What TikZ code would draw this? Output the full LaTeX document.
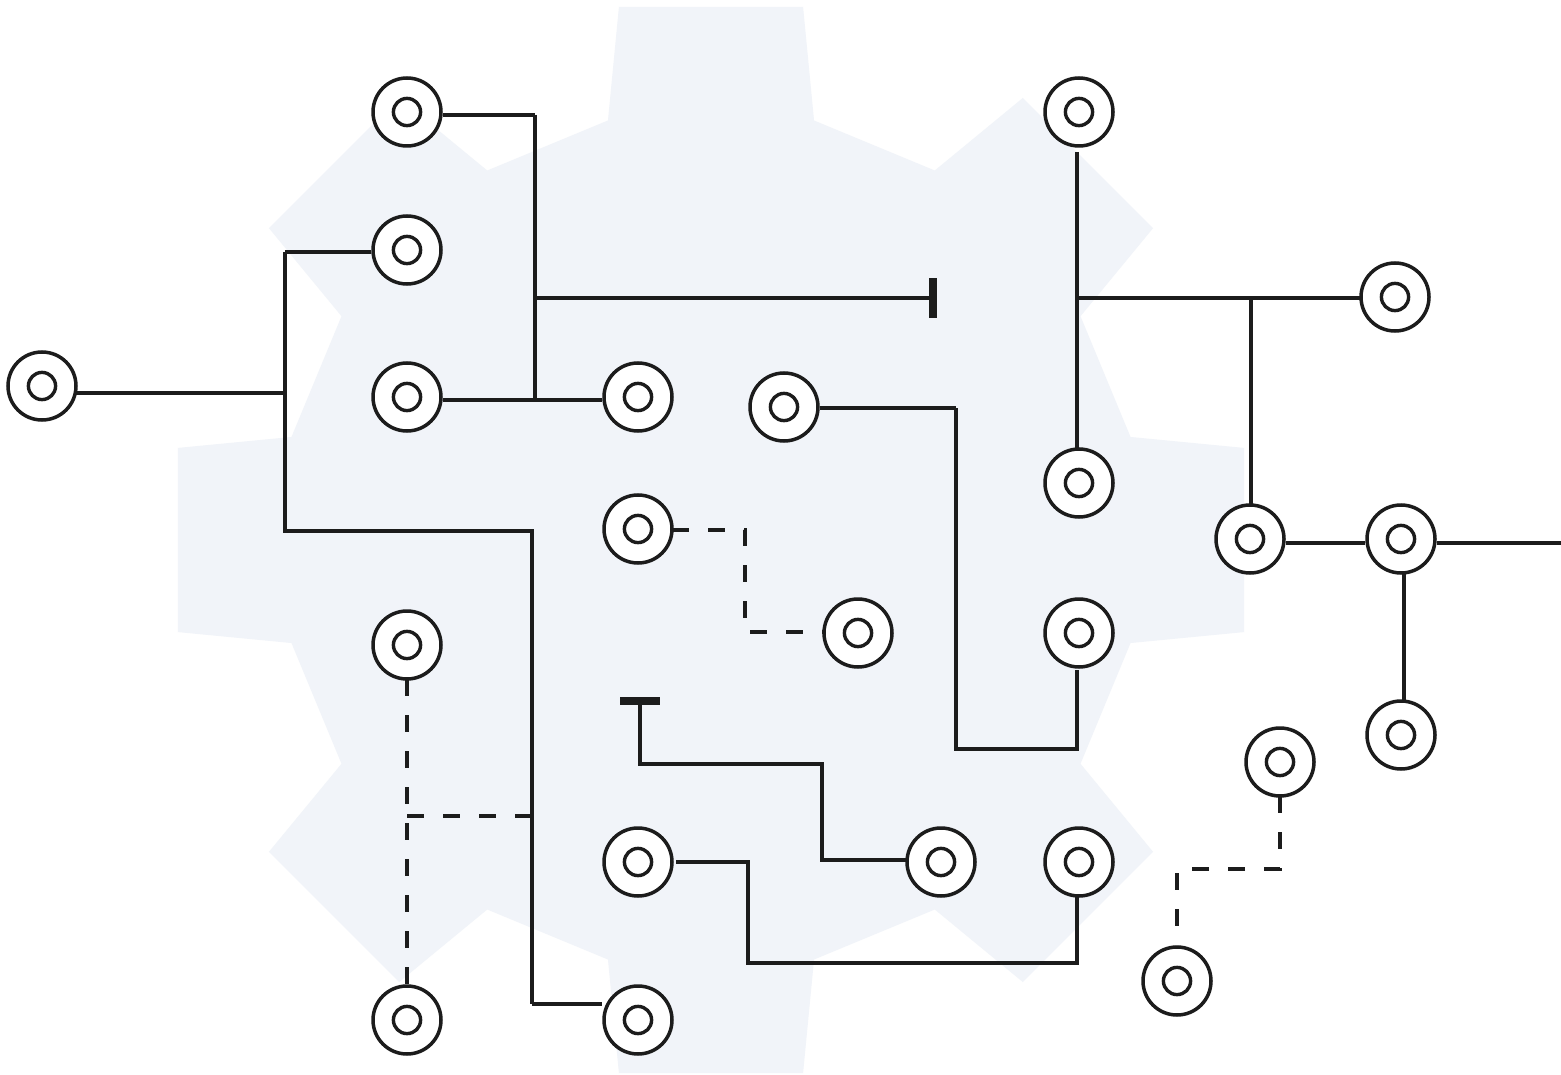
\documentclass[tikz,border=0pt]{standalone}
\usetikzlibrary{calc}
\definecolor{gearfill}{HTML}{F1F4F9}
\definecolor{ink}{HTML}{1C1C1C}
\tikzset{
  wire/.style={draw=ink, line width=3.3pt},
  dwire/.style={wire, dash pattern=on 17pt off 19pt},
  port/.style={circle, draw=ink, line width=3.5pt, fill=white,
    minimum size=68pt, inner sep=0pt,
    path picture={\draw[ink, line width=3.4pt]
      (path picture bounding box.center) circle (13.6pt);}},
  stopbar/.style={draw=ink, line width=8pt}
}
\begin{document}
\begin{tikzpicture}[x=1pt, y=-1pt]
\useasboundingbox (0,0) rectangle (1561,1075);
\fill[white] (0,0) rectangle (1561,1075);

% background gear with eight teeth
\begin{scope}[shift={(711,540)}]
  \fill[gearfill] ({-13.8}:432)
    \foreach \a in {0,45,...,315} {
      -- ({\a-13.8}:432) -- ({\a-9.8}:541) -- ({\a+9.8}:541) -- ({\a+13.8}:432)
    } -- cycle;
\end{scope}

% junction and bend points
\coordinate (a1) at (535,400);
\coordinate (a2) at (535,298);
\coordinate (t1) at (933,298);
\coordinate (b1) at (285,393);
\coordinate (b2) at (285,531);
\coordinate (b3) at (532,531);
\coordinate (b4) at (532,1004);
\coordinate (c1) at (956,749);
\coordinate (d1) at (745,632);
\coordinate (e1) at (407,816);
\coordinate (e2) at (532,816);
\coordinate (t2) at (640,701);
\coordinate (f1) at (822,764);
\coordinate (g1) at (748,963);
\coordinate (h1) at (1077,298);
\coordinate (h2) at (1251,298);
\coordinate (k1) at (1177,869);
\coordinate (edge) at (1561,543);

% connectors
\draw[wire] (535,115) -- (a1);
\draw[wire] (a2) -- ([xshift=-4pt]t1);
\draw[stopbar] ([yshift=-20pt]t1) -- ([yshift=20pt]t1);
\draw[wire] (285,252) -- (b2) -- (b3) -- (b4);
\draw[wire] (b1) -- (76,393);
\draw[wire] (956,408) -- (c1) -- (1077,749) -- (1077,670);
\draw[dwire] (672,530) -| (d1) -- (824,632);
\draw[dwire] (407,679) -- (407,986);
\draw[dwire] (e1) -- (e2);
\draw[stopbar] ([xshift=-20pt]t2) -- ([xshift=20pt]t2);
\draw[wire] ([yshift=4pt]t2) |- (f1) |- (907,860);
\draw[wire] (676,862) -| (g1) -| (1077,896);
\draw[wire] (1077,152) -- (1077,449);
\draw[wire] (h1) -- (1361,298);
\draw[wire] (h2) -- (1251,505);
\draw[wire] (1404,573) -- (1404,700);
\draw[dwire] (1280,796) |- (k1) -- (1177,945);

% ports
\node[port] (n1) at (407,112) {};
\node[port] (n2) at (407,250) {};
\node[port] (n3) at (42,386) {};
\node[port] (n4) at (407,397) {};
\node[port] (n5) at (638,397) {};
\node[port] (n6) at (784,407) {};
\node[port] (n7) at (638,529) {};
\node[port] (n8) at (858,633) {};
\node[port] (n9) at (407,645) {};
\node[port] (n10) at (407,1020) {};
\node[port] (n11) at (638,862) {};
\node[port] (n12) at (638,1020) {};
\node[port] (n13) at (941,862) {};
\node[port] (n14) at (1079,862) {};
\node[port] (n15) at (1079,112) {};
\node[port] (n16) at (1079,483) {};
\node[port] (n17) at (1079,633) {};
\node[port] (n18) at (1395,297) {};
\node[port] (n19) at (1250,539) {};
\node[port] (n20) at (1401,539) {};
\node[port] (n21) at (1401,735) {};
\node[port] (n22) at (1280,762) {};
\node[port] (n23) at (1177,981) {};

% links ending on ports
\draw[wire] (n1.east |- 0,115) -- (535,115);
\draw[wire] (n2.west |- 0,252) -- (285,252);
\draw[wire] (n4.east |- a1) -- (n5.west |- a1);
\draw[wire] (b4) -- (n12.west |- b4);
\draw[wire] (n6.east |- 0,408) -- (956,408);
\draw[wire] (n19.east |- edge) -- (n20.west |- edge);
\draw[wire] (n20.east |- edge) -- (edge);
\end{tikzpicture}
\end{document}
